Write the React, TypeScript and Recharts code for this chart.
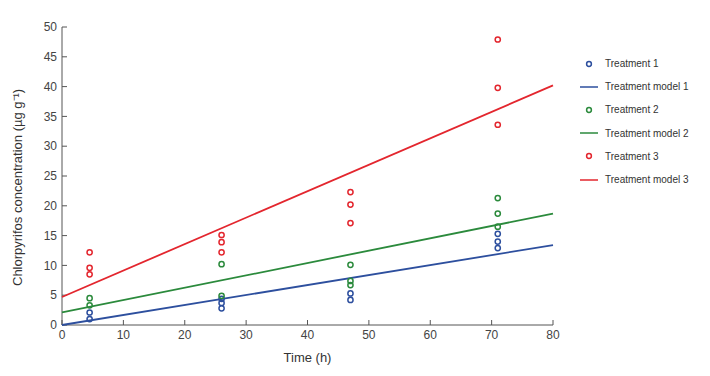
import { ComposedChart, Scatter, XAxis, YAxis } from 'recharts';

const times = [4.5, 26, 47, 71];

// replicate readings at each time point
const treatment1 = [
	[2.1, 1.0],
	[4.4, 3.7, 2.8],
	[5.3, 4.2],
	[15.3, 14.0, 12.9],
];
const treatment2 = [
	[4.5, 3.3],
	[10.2, 4.9],
	[10.1, 7.4, 6.7],
	[21.3, 18.7, 16.5],
];
const treatment3 = [
	[12.2, 9.6, 8.5],
	[15.1, 13.9, 12.2],
	[22.3, 20.2, 17.1],
	[47.9, 39.8, 33.6],
];

const modelX = [0, 80];
const model1 = [0, 13.4];
const model2 = [2.1, 18.7];
const model3 = [4.7, 40.2];

const xTicks = [0, 10, 20, 30, 40, 50, 60, 70, 80];
const yTicks = [0, 5, 10, 15, 20, 25, 30, 35, 40, 45, 50];

const BLUE = '#2d4f9e';
const GREEN = '#2b8a3c';
const RED = '#e3262e';

const toPoints = (vals: number[][]) =>
	vals.flatMap((row, i) => row.map((y) => ({ x: times[i], y })));
const toLine = (vals: number[]) => modelX.map((x, i) => ({ x, y: vals[i] }));

const series = [
	{ name: 'Treatment 1', kind: 'dot', color: BLUE, data: toPoints(treatment1) },
	{ name: 'Treatment model 1', kind: 'line', color: BLUE, data: toLine(model1) },
	{ name: 'Treatment 2', kind: 'dot', color: GREEN, data: toPoints(treatment2) },
	{ name: 'Treatment model 2', kind: 'line', color: GREEN, data: toLine(model2) },
	{ name: 'Treatment 3', kind: 'dot', color: RED, data: toPoints(treatment3) },
	{ name: 'Treatment model 3', kind: 'line', color: RED, data: toLine(model3) },
];

const FONT = '"Liberation Sans Narrow", "Liberation Sans", Arial, sans-serif';

const Ring = (props: any) => {
	const { cx, cy, fill } = props;
	return <circle cx={cx} cy={cy} r={2.6} fill="none" stroke={fill} strokeWidth={1.5} />;
};

const LegendBox = () => (
	<div style={{ position: 'absolute', left: 578, top: 52, fontFamily: FONT, fontSize: 10, color: '#333' }}>
		{series.map((s) => (
			<div key={s.name} style={{ display: 'flex', alignItems: 'center', height: 23.2 }}>
				<svg width={22} height={10} style={{ marginRight: 5 }}>
					{s.kind === 'dot' ? (
						<circle cx={11} cy={5} r={2.4} fill="none" stroke={s.color} strokeWidth={1.5} />
					) : (
						<line x1={2} y1={5} x2={20} y2={5} stroke={s.color} strokeWidth={1.5} />
					)}
				</svg>
				<span>{s.name}</span>
			</div>
		))}
	</div>
);

export default function App() {
	return (
		<div style={{ position: 'absolute', left: 0, top: 0, width: 710, height: 376, background: '#fff' }}>
			<ComposedChart width={710} height={376} margin={{ top: 27, right: 157, bottom: 21, left: 20 }}>
				<XAxis
					type="number"
					dataKey="x"
					domain={[0, 80]}
					ticks={xTicks}
					tickSize={-5}
					tickMargin={10}
					stroke="#555"
					tick={{ fill: '#444', fontSize: 12, fontFamily: FONT }}
					label={{ value: 'Time (h)', position: 'insideBottom', offset: -7, fill: '#333', fontSize: 13, fontFamily: FONT }}
				/>
				<YAxis
					type="number"
					dataKey="y"
					domain={[0, 50]}
					ticks={yTicks}
					width={42}
					tickSize={-5}
					tickMargin={10}
					stroke="#555"
					tick={{ fill: '#444', fontSize: 12, fontFamily: FONT }}
					label={{
						value: 'Chlorpyrifos concentration (µg g⁻¹)',
						angle: -90,
						position: 'insideLeft',
						offset: -3,
						dy: 110,
						fill: '#333',
						fontSize: 13,
						fontFamily: FONT,
					}}
				/>
				{series.map((s) =>
					s.kind === 'dot' ? (
						<Scatter key={s.name} name={s.name} data={s.data} fill={s.color} shape={Ring} isAnimationActive={false} />
					) : (
						<Scatter
							key={s.name}
							name={s.name}
							data={s.data}
							fill={s.color}
							line={{ stroke: s.color, strokeWidth: 1.8 }}
							shape={() => <g />}
							isAnimationActive={false}
						/>
					)
				)}
			</ComposedChart>
			<LegendBox />
		</div>
	);
}
